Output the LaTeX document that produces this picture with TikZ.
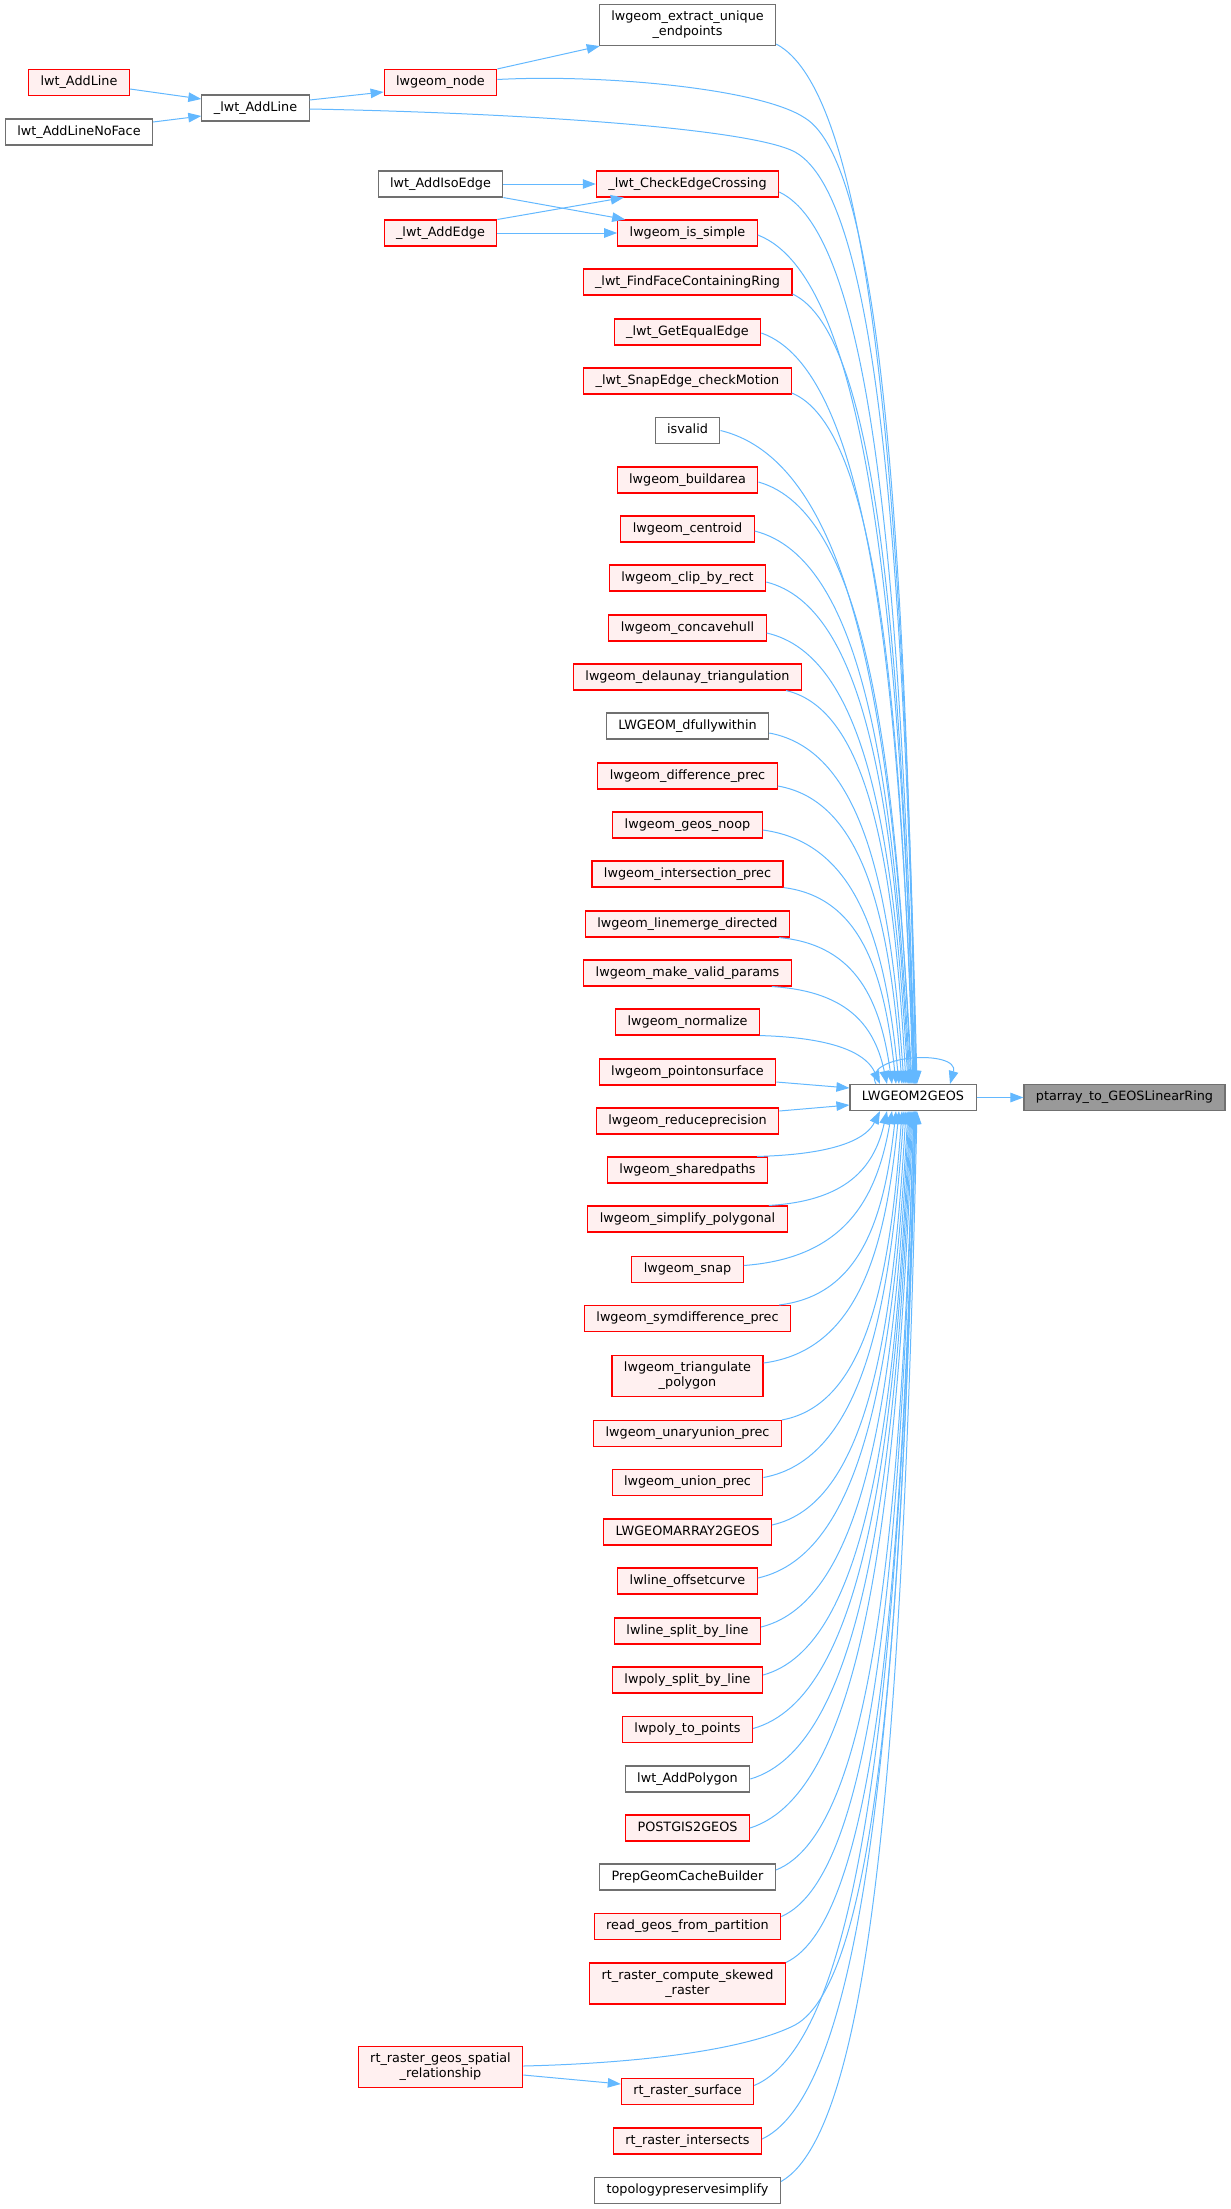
\documentclass[tikz,border=0pt]{standalone}
\usepackage{fontspec}
\setmainfont{DejaVu Sans}
\usetikzlibrary{arrows.meta,calc}
\definecolor{edgec}{HTML}{63B8FF}
\definecolor{redf}{HTML}{FFF0F0}
\definecolor{redd}{HTML}{FF0000}
\definecolor{greyd}{HTML}{707070}
\definecolor{curf}{HTML}{999999}
\newcommand\callto[2]{\draw[callarrow] let \p1=#1, \p2=#2 in (\p1) .. controls ({\x1+0.7*(\x2-\x1)},{\y1-0.05*(\y1-(\y2))}) and ({\x2-0.1*(\x2-\x1)},{\y2+0.55*(\y1-(\y2))}) .. (\p2);}
\begin{document}
\begin{tikzpicture}[x=1pt,y=1pt,
  nbox/.style={rectangle, draw, line width=1.1pt, inner xsep=12pt, inner ysep=0pt, minimum height=26pt, font=\fontsize{12.8}{15}\selectfont, text=black},
  oneline/.style={text height=9.4pt, text depth=2.7pt},
  rn/.style={nbox, oneline, draw=redd, fill=redf},
  gn/.style={nbox, oneline, draw=greyd, fill=white},
  cn/.style={nbox, oneline, draw=greyd, fill=curf},
  rntwo/.style={nbox, draw=redd, fill=redf, align=center, minimum height=41pt, inner ysep=3pt},
  gntwo/.style={nbox, draw=greyd, fill=white, align=center, minimum height=41pt, inner ysep=3pt},
  callarrow/.style={draw=edgec, line width=1pt, -{Triangle[length=13pt,width=9.5pt]}},
]
\useasboundingbox (0,0) rectangle (1231,-2209);
% rank 4
\node[rn] (wal) at (79,-82.5) {lwt\_AddLine};
\node[gn] (anf) at (79,-132) {lwt\_AddLineNoFace};
% rank 3
\node[gn] (all) at (255.5,-108) {\_lwt\_AddLine};
% rank 2
\node[rn] (lno) at (440.5,-82.5) {lwgeom\_node};
\node[gn] (aie) at (440.5,-184) {lwt\_AddIsoEdge};
\node[rn] (ade) at (440.5,-233) {\_lwt\_AddEdge};
\node[rntwo] (gsr) at (440.5,-2067) {rt\_raster\_geos\_spatial\\\_relationship};
% rank 1
\node[gntwo] (ext) at (687.5,-25) {lwgeom\_extract\_unique\\\_endpoints};
\node[rn] (cec) at (687.5,-184) {\_lwt\_CheckEdgeCrossing};
\node[rn] (lis) at (687.5,-233) {lwgeom\_is\_simple};
\node[rn] (ffr) at (687.5,-282) {\_lwt\_FindFaceContainingRing};
\node[rn] (gee) at (687.5,-332) {\_lwt\_GetEqualEdge};
\node[rn] (sec) at (687.5,-381) {\_lwt\_SnapEdge\_checkMotion};
\node[gn] (isv) at (687.5,-430.5) {isvalid};
\node[rn] (bda) at (687.5,-480) {lwgeom\_buildarea};
\node[rn] (cen) at (687.5,-529) {lwgeom\_centroid};
\node[rn] (cbr) at (687.5,-578) {lwgeom\_clip\_by\_rect};
\node[rn] (cch) at (687.5,-628) {lwgeom\_concavehull};
\node[rn] (del) at (687.5,-677) {lwgeom\_delaunay\_triangulation};
\node[gn] (dfw) at (687.5,-726) {LWGEOM\_dfullywithin};
\node[rn] (dif) at (687.5,-776) {lwgeom\_difference\_prec};
\node[rn] (gno) at (687.5,-825) {lwgeom\_geos\_noop};
\node[rn] (int) at (687.5,-874) {lwgeom\_intersection\_prec};
\node[rn] (lmd) at (687.5,-924) {lwgeom\_linemerge\_directed};
\node[rn] (mvp) at (687.5,-973) {lwgeom\_make\_valid\_params};
\node[rn] (nor) at (687.5,-1022) {lwgeom\_normalize};
\node[rn] (pos) at (687.5,-1072) {lwgeom\_pointonsurface};
\node[rn] (rpr) at (687.5,-1121) {lwgeom\_reduceprecision};
\node[rn] (shp) at (687.5,-1170) {lwgeom\_sharedpaths};
\node[rn] (spo) at (687.5,-1219) {lwgeom\_simplify\_polygonal};
\node[rn] (snp) at (687.5,-1269.5) {lwgeom\_snap};
\node[rn] (sdp) at (687.5,-1318.5) {lwgeom\_symdifference\_prec};
\node[rntwo] (tri) at (687.5,-1376) {lwgeom\_triangulate\\\_polygon};
\node[rn] (uup) at (687.5,-1433.5) {lwgeom\_unaryunion\_prec};
\node[rn] (unp) at (687.5,-1482.5) {lwgeom\_union\_prec};
\node[rn] (lag) at (687.5,-1532) {LWGEOMARRAY2GEOS};
\node[rn] (loc) at (687.5,-1581) {lwline\_offsetcurve};
\node[rn] (lsl) at (687.5,-1631) {lwline\_split\_by\_line};
\node[rn] (psl) at (687.5,-1680) {lwpoly\_split\_by\_line};
\node[rn] (ptp) at (687.5,-1729.5) {lwpoly\_to\_points};
\node[gn] (apo) at (687.5,-1779) {lwt\_AddPolygon};
\node[rn] (pg2) at (687.5,-1828) {POSTGIS2GEOS};
\node[gn] (pgc) at (687.5,-1877) {PrepGeomCacheBuilder};
\node[rn] (rgp) at (687.5,-1926.5) {read\_geos\_from\_partition};
\node[rntwo] (csr) at (687.5,-1983.5) {rt\_raster\_compute\_skewed\\\_raster};
\node[rn] (rsu) at (687.5,-2091.5) {rt\_raster\_surface};
\node[rn] (rin) at (687.5,-2141) {rt\_raster\_intersects};
\node[gn] (tps) at (687.5,-2190.5) {topologypreservesimplify};
% centre
\node[gn] (L) at (913,-1097.5) {LWGEOM2GEOS};
\node[cn] (P) at (1124.5,-1097.5) {ptarray\_to\_GEOSLinearRing};

% left edges
\draw[callarrow] ([yshift=-6.5pt]wal.east) -- ([yshift=9pt]all.west);
\draw[callarrow] ([yshift=10pt]anf.east) -- ([yshift=-8pt]all.west);
\draw[callarrow] ([yshift=8pt]all.east) -- ([yshift=-9.5pt]lno.west);
\draw[callarrow] (lno.north east) -- ([xshift=1pt]ext.south west);
\draw[callarrow] (aie.east) -- (cec.west);
\draw[callarrow] (aie.south east) -- ([xshift=8pt]lis.north west);
\draw[callarrow] (ade.north east) -- ([xshift=28pt]cec.south west);
\draw[callarrow] (ade.east) -- (lis.west);
\draw[callarrow] ([yshift=-8pt]gsr.east) -- ([yshift=7.5pt]rsu.west);
\draw[callarrow] (L.east) -- (P.west);

% long custom edges
\draw[callarrow] ([yshift=3pt]lno.east) .. controls (600,-74) and (760,-88) .. (805,-118) .. controls (883,-166) and (905,-553) .. ([xshift=3pt]L.north);
\draw[callarrow] ([yshift=-1pt]all.east) .. controls (520,-113) and (750,-128) .. (795,-152) .. controls (880,-199) and (904,-572) .. ([xshift=3pt]L.north);
\draw[callarrow] ([yshift=1pt]gsr.east) .. controls (650,-2063) and (750,-2048) .. (795,-2025) .. controls (879,-1979) and (903,-1613) .. ([xshift=2pt]L.south);

% upper edges
\callto{([yshift=2pt]ext.south east)}{([xshift=4pt]L.north)}
\callto{([yshift=-8pt]cec.east)}{([xshift=2pt]L.north)}
\callto{([yshift=-2pt]lis.east)}{([xshift=2pt]L.north)}
\callto{([yshift=-12pt]ffr.east)}{([xshift=1pt]L.north)}
\callto{([yshift=-1pt]gee.east)}{([xshift=1pt]L.north)}
\callto{([yshift=-12pt]sec.east)}{(L.north)}
\callto{(isv.east)}{([xshift=-1pt]L.north)}
\callto{([yshift=-2pt]bda.east)}{([xshift=-2pt]L.north)}
\callto{([yshift=-2pt]cen.east)}{([xshift=-3pt]L.north)}
\callto{([yshift=-4pt]cbr.east)}{([xshift=-4pt]L.north)}
\callto{([yshift=-5pt]cch.east)}{([xshift=-5pt]L.north)}
\callto{([xshift=-16pt]del.south east)}{([xshift=-7pt]L.north)}
\callto{([yshift=-7pt]dfw.east)}{([xshift=-9pt]L.north)}
\callto{([yshift=-10pt]dif.east)}{([xshift=-11pt]L.north)}
\callto{([yshift=-5pt]gno.east)}{([xshift=-14pt]L.north)}
\callto{(int.south east)}{([xshift=-17pt]L.north)}
\callto{([xshift=-11pt]lmd.south east)}{([xshift=-21pt]L.north)}
\callto{([xshift=-20pt]mvp.south east)}{([xshift=-26pt]L.north)}
\callto{(nor.south east)}{([xshift=-33pt]L.north)}
\draw[callarrow] ([yshift=-10pt]pos.east) -- ([yshift=9.5pt]L.west);
\draw[callarrow] ([yshift=10pt]rpr.east) -- ([yshift=-7.5pt]L.west);
% lower edges
\callto{([xshift=-11pt]shp.north east)}{([xshift=-33pt]L.south)}
\callto{([xshift=-19pt]spo.north east)}{([xshift=-26pt]L.south)}
\callto{([yshift=4pt]snp.east)}{([xshift=-21pt]L.south)}
\callto{([xshift=-12pt]sdp.north east)}{([xshift=-17pt]L.south)}
\callto{([yshift=13pt]tri.east)}{([xshift=-14pt]L.south)}
\callto{(uup.north east)}{([xshift=-11pt]L.south)}
\callto{([yshift=5pt]unp.east)}{([xshift=-9pt]L.south)}
\callto{([yshift=7pt]lag.east)}{([xshift=-7pt]L.south)}
\callto{([yshift=3pt]loc.east)}{([xshift=-5pt]L.south)}
\callto{([yshift=4pt]lsl.east)}{([xshift=-4pt]L.south)}
\callto{([yshift=5pt]psl.east)}{([xshift=-3pt]L.south)}
\callto{([yshift=1pt]ptp.east)}{([xshift=-2pt]L.south)}
\callto{(apo.east)}{([xshift=-1pt]L.south)}
\callto{(pg2.east)}{(L.south)}
\callto{([yshift=7pt]pgc.east)}{([xshift=1pt]L.south)}
\callto{([yshift=10pt]rgp.east)}{([xshift=1pt]L.south)}
\callto{(csr.north east)}{([xshift=2pt]L.south)}
\callto{([yshift=6pt]rsu.east)}{([xshift=3pt]L.south)}
\callto{([yshift=2pt]rin.east)}{([xshift=3pt]L.south)}
\callto{([yshift=9pt]tps.east)}{([xshift=4pt]L.south)}
% self loop
\draw[callarrow] ([xshift=-37pt]L.north) .. controls +(-16,30) and +(10,35) .. ([xshift=37pt]L.north);
\end{tikzpicture}
\end{document}
